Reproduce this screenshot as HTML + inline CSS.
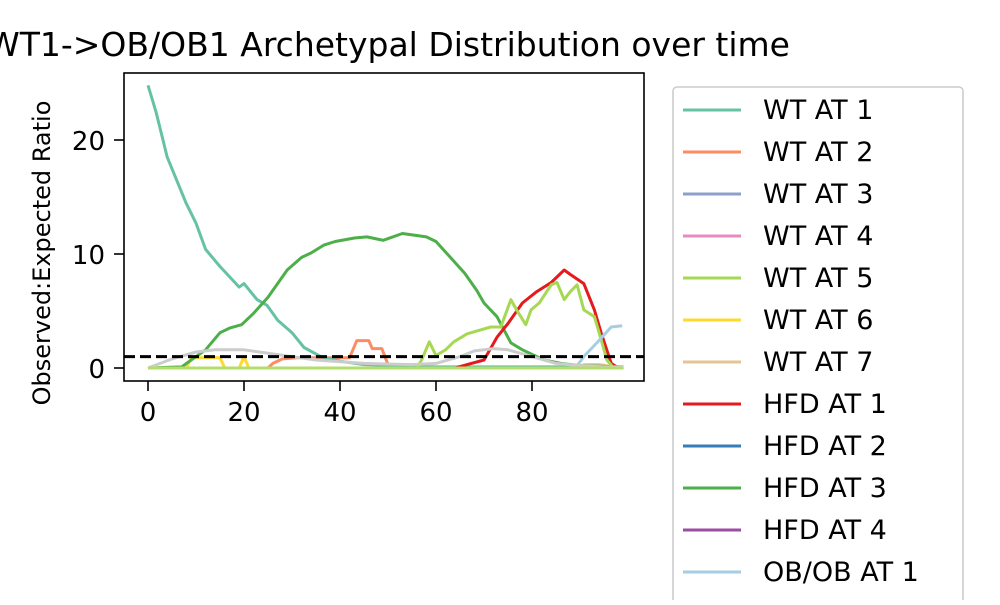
<!DOCTYPE html>
<html><head><meta charset="utf-8"><style>
body{margin:0;background:#fff;}
svg text{font-family:"DejaVu Sans","Liberation Sans",sans-serif;}
</style></head><body>
<svg id="chart" width="1000" height="600" xmlns="http://www.w3.org/2000/svg">
<rect width="1000" height="600" fill="#fff"/>
<text x="790" y="56" font-size="33" text-anchor="end">WT1-&gt;OB/OB1 Archetypal Distribution over time</text>
<text transform="translate(50,253) rotate(-90)" font-size="24" text-anchor="middle">Observed:Expected Ratio</text>
<g id="plot"></g>
<rect x="124" y="73" width="520" height="308" fill="none" stroke="#000" stroke-width="1.6"/>
<g id="axes"></g>
<g id="legend"></g>
</svg>
<script>
const xTicks=[0,20,40,60,80];
const yTicks=[0,10,20];
const refLine=1;
const seriesNames=["WT AT 1","WT AT 2","WT AT 3","WT AT 4","WT AT 5","WT AT 6","WT AT 7","HFD AT 1","HFD AT 2","HFD AT 3","HFD AT 4","OB/OB AT 1"];
const seriesColors=["#66c2a5","#fc8d62","#8da0cb","#e78ac3","#a6d854","#ffd92f","#e5c494","#e41a1c","#377eb8","#4daf4a","#984ea3","#a6cee3"];
const wt1X=[0,1.7,4,7.9,10,12,15,19,20,22.7,24.8,27,30,32.5,36,40,45,60,99];
const wt1Y=[24.8,22.4,18.5,14.5,12.7,10.4,8.9,7.1,7.4,6.0,5.5,4.2,3.1,1.8,1.0,0.6,0.3,0.1,0.1];
const wt2X=[0,25,26,28,31,42,43.5,46,46.7,48.7,50,51,99];
const wt2Y=[0,0,0.4,0.8,0.9,0.9,2.4,2.4,1.7,1.7,0.3,0,0];
const wt5X=[0,56,57,58.6,60,62,63.7,66.5,71.4,73.5,75.6,76.8,78.7,79.8,81.5,84,85.2,86.7,88,89.4,90.8,93,94.4,95.6,97,99];
const wt5Y=[0,0,0.7,2.3,1.1,1.6,2.3,3.0,3.6,3.6,6.0,5.1,3.8,5.1,5.7,7.3,7.5,6.0,6.7,7.3,5.1,4.5,2.5,0.7,0,0];
const wt6X=[0,8,9,15,16,19,20,21,99];
const wt6Y=[0,0,0.9,0.9,0,0,1.0,0,0];
const wt7X=[0,88,91,94,97,99];
const wt7Y=[0,0,0.3,0.3,0.1,0];
const hfd1X=[0,64,66.5,70,72.7,75,78,81,84,86.7,88,90.8,93,94.4,96.5,98,99];
const hfd1Y=[0,0,0.3,0.7,2.7,3.9,5.7,6.7,7.5,8.6,8.2,7.4,5.1,3.1,0.4,0,0];
const hfd3X=[0,7,8,12,15,17,19.5,22,25,29,32,34,36.7,39,43,45.6,49,53,58,60,63,66,68.5,70,72.7,75.6,78,82.5,86,90,99];
const hfd3Y=[0,0.1,0.4,1.6,3.1,3.5,3.8,4.8,6.2,8.6,9.7,10.1,10.8,11.1,11.4,11.5,11.2,11.8,11.5,11.1,9.7,8.3,6.8,5.7,4.5,2.2,1.6,0.7,0.4,0.2,0.1];
const obX=[0,89,91,93.5,96.5,98.8];
const obY=[0,0,1.1,2.2,3.6,3.7];
const grayX=[0,5,10,14,20,25,30,35,45,55,60,65,68,72,75,80,85,90,95,99];
const grayY=[0,0.8,1.4,1.6,1.6,1.3,1.0,0.7,0.4,0.3,0.4,1.0,1.5,1.7,1.6,1.0,0.4,0.2,0.1,0.1];
const flatX=[0,99];
const flatY=[0,0];

const X0=148,XS=4.8,Y0=368,YS=11.4;
const sx=v=>X0+XS*v, sy=v=>Y0-YS*v;
const NS="http://www.w3.org/2000/svg";
function mk(t,a,p){const e=document.createElementNS(NS,t);for(const k in a)e.setAttribute(k,a[k]);p.appendChild(e);return e;}
const plot=document.getElementById('plot'),axes=document.getElementById('axes'),leg=document.getElementById('legend');
function drawLine(xs,ys,color,name){
  const d=xs.map((x,i)=>(i?'L':'M')+sx(x).toFixed(1)+','+sy(ys[i]).toFixed(1)).join('');
  const p=mk('path',{d:d,fill:'none',stroke:color,'stroke-width':3,'stroke-linejoin':'round'},plot);
  
  
}
drawLine(flatX,flatY,"#8da0cb","line-wt-at-3");
drawLine(flatX,flatY,"#e78ac3","line-wt-at-4");
drawLine(flatX,flatY,"#377eb8","line-hfd-at-2");
drawLine(flatX,flatY,"#984ea3","line-hfd-at-4");
drawLine(wt7X,wt7Y,"#e5c494","line-wt-at-7");
drawLine(wt2X,wt2Y,"#fc8d62","line-wt-at-2");
drawLine(wt6X,wt6Y,"#ffd92f","line-wt-at-6");
drawLine(wt1X,wt1Y,"#66c2a5","line-wt-at-1");
drawLine(hfd3X,hfd3Y,"#4daf4a","line-hfd-at-3");
drawLine(hfd1X,hfd1Y,"#e41a1c","line-hfd-at-1");
drawLine(wt5X,wt5Y,"#a6d854","line-wt-at-5");
drawLine(obX,obY,"#a6cee3","line-ob-ob-at-1");
drawLine(grayX,grayY,"#cccccc","line-gray-series");
drawLine(flatX,flatY,"#b3de69","line-baseline");
const ref=mk('line',{x1:124,x2:644,y1:sy(refLine),y2:sy(refLine),stroke:'#000','stroke-width':3,'stroke-dasharray':'11,5'},plot);


xTicks.forEach(t=>{
  const l=mk('line',{x1:sx(t),x2:sx(t),y1:381,y2:391,stroke:'#000','stroke-width':1.6},axes);
  
  
  const tx=mk('text',{x:sx(t),y:421,'font-size':26,'text-anchor':'middle'},axes);
  tx.textContent=t;
  
  
});
yTicks.forEach(t=>{
  const l=mk('line',{x1:114,x2:124,y1:sy(t),y2:sy(t),stroke:'#000','stroke-width':1.6},axes);
  
  
  const tx=mk('text',{x:105,y:sy(t)+10,'font-size':26,'text-anchor':'end'},axes);
  tx.textContent=t;
  
  
});
const box=mk('rect',{x:673,y:87,width:290,height:540,rx:4,fill:'#fff',stroke:'#ccc','stroke-width':1.6},leg);


seriesNames.forEach((n,i)=>{
  const y=110+42*i;
  const l=mk('line',{x1:683,x2:741,y1:y,y2:y,stroke:seriesColors[i],'stroke-width':3},leg);
  
  
  const tx=mk('text',{x:763,y:y+9,'font-size':27},leg);
  tx.textContent=n;
  
  
});
</script>
</body></html>
